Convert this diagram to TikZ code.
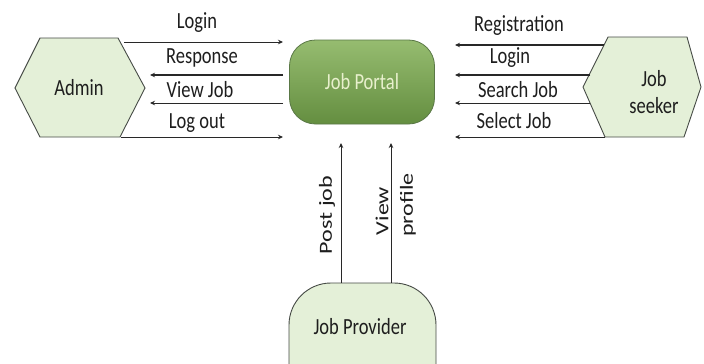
\documentclass[tikz,border=0pt]{standalone}
\usepackage{fontspec}
\usepackage{graphicx}
\setmainfont{Carlito}
\usetikzlibrary{arrows.meta,calc}
\definecolor{lgreen}{RGB}{228,240,216}
\definecolor{ptop}{RGB}{150,188,112}
\definecolor{pbot}{RGB}{100,142,64}
\definecolor{pedge}{RGB}{90,120,70}
\definecolor{edge}{RGB}{70,75,70}
\definecolor{txt}{RGB}{30,30,30}
\definecolor{linec}{RGB}{40,40,40}
\definecolor{ptxt}{RGB}{232,240,205}
\newcommand{\vt}[1]{\scalebox{1}[1.25]{#1}}
\newcommand{\hzt}[1]{\scalebox{1.3}[1]{#1}}
\begin{document}
\begin{tikzpicture}[x=1pt,y=-1pt,
  lbl/.style={font=\fontsize{18.5}{20}\selectfont, text=txt, inner sep=0pt},
  arr/.style={draw=linec, line width=0.9pt, -{Stealth[length=5pt,width=4.5pt]}},
  arrb/.style={arr, line width=1.4pt},
  hexbox/.style={draw=edge, fill=lgreen, line width=0.9pt},
  portalbox/.style={draw=pedge, line width=0.8pt, rounded corners=26pt, top color=ptop, bottom color=pbot,
    minimum width=145pt, minimum height=84pt, font=\fontsize{18.5}{20}\selectfont, text=ptxt}]
\useasboundingbox (0,0) rectangle (704,364);
\fill[white] (0,0) rectangle (704,364);

% Admin
\draw[hexbox] (40,38)--(118,38)--(145,88)--(120,137)--(40,137)--(15,88)--cycle;
\node[lbl] (admin) at (79,88) {\vt{Admin}};

% Job seeker
\draw[hexbox] (608,37)--(687,37)--(701,87)--(684,137)--(605,137)--(583,87)--cycle;
\node[lbl] (seeker1) at (654,79) {\vt{Job}};
\node[lbl] (seeker2) at (654,106) {\vt{seeker}};

% Job Portal
\node[portalbox] (portal) at (362,82) {\vt{Job Portal}};

% Job Provider
\begin{scope}
\clip (0,0) rectangle (704,364);
\draw[hexbox, rounded corners=42pt] (289,283) rectangle (436,420);
\end{scope}
\node[lbl] (provider) at (360,327) {\vt{Job Provider}};

% coordinates
\coordinate (aL1) at (124,42);  \coordinate (pL1) at (283,42);
\coordinate (aL2) at (150,75);  \coordinate (pL2) at (283,75);
\coordinate (aL3) at (150,103); \coordinate (pL3) at (283,103);
\coordinate (aL4) at (121,137); \coordinate (pL4) at (283,137);
\coordinate (sR1) at (604,45);  \coordinate (pR1) at (455,45);
\coordinate (sR2) at (590,75);  \coordinate (pR2) at (455,75);
\coordinate (sR3) at (590,103); \coordinate (pR3) at (455,103);
\coordinate (sR4) at (605,137); \coordinate (pR4) at (455,137);
\coordinate (jp1) at (341,283); \coordinate (pt1) at (341,143);
\coordinate (jp2) at (391,283); \coordinate (pt2) at (391,143);

% left arrows
\draw[arr]  (aL1) -- (pL1);
\draw[arrb] (pL2) -- (aL2);
\draw[arr]  (pL3) -- (aL3);
\draw[arr]  (aL4) -- (pL4);
\node[lbl] at (197,23) {\vt{Login}};
\node[lbl] at (202,58) {\vt{Response}};
\node[lbl] at (200,90) {\vt{View Job}};
\node[lbl] at (197,123) {\vt{Log out}};

% right arrows
\draw[arrb] (sR1) -- (pR1);
\draw[arrb] (sR2) -- (pR2);
\draw[arr]  (sR3) -- (pR3);
\draw[arr]  (sR4) -- (pR4);
\node[lbl] at (519,25) {\vt{Registration}};
\node[lbl] at (510,58) {\vt{Login}};
\node[lbl] at (518,90) {\vt{Search Job}};
\node[lbl] at (514,121) {\vt{Select Job}};

% vertical arrows
\draw[arr] (jp1) -- (pt1);
\draw[arr] (jp2) -- (pt2);
\node[lbl, rotate=90] at (327,215) {\hzt{Post job}};
\node[lbl, rotate=90] at (382,211) {\hzt{View}};
\node[lbl, rotate=90] at (408,205) {\hzt{profile}};
\end{tikzpicture}
\end{document}
